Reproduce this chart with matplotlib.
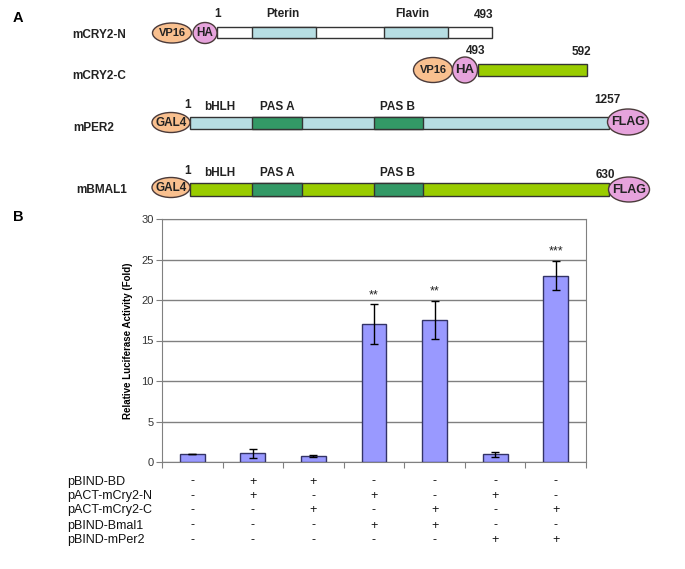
import numpy as np
import matplotlib.pyplot as plt
from matplotlib.patches import Ellipse, Rectangle
from matplotlib.transforms import blended_transform_factory

plt.rcParams['font.family'] = ['Liberation Sans', 'DejaVu Sans']

# bar chart data
values = [1.0, 1.1, 0.75, 17.0, 17.55, 0.95, 23.0]
errors = [0.0, 0.55, 0.1, 2.45, 2.35, 0.3, 1.8]
stars = ['', '', '', '**', '**', '', '***']
row_labels = ['pBIND-BD', 'pACT-mCry2-N', 'pACT-mCry2-C', 'pBIND-Bmal1', 'pBIND-mPer2']
signs = [
    ['-', '+', '+', '-', '-', '-', '-'],
    ['-', '+', '-', '+', '-', '+', '-'],
    ['-', '-', '+', '-', '+', '-', '+'],
    ['-', '-', '-', '+', '+', '-', '-'],
    ['-', '-', '-', '-', '-', '+', '+'],
]

# schematic (panel A), drawn in a pixel-like frame
peach = '#f9c08f'
pink = '#e6a3dc'
lblue = '#b7dee3'
green = '#99cc00'
dgreen = '#339966'

fig = plt.figure(figsize=(6.85, 5.69), dpi=100)
ax0 = fig.add_axes([0, 0, 1, 1])
ax0.set_xlim(0, 685)
ax0.set_ylim(569, 0)
ax0.axis('off')


def tag(x, y, w, h, color, label, size=8):
    ax0.add_patch(Ellipse((x, y), w, h, facecolor=color, edgecolor='#4a3a3a', lw=1, zorder=3))
    ax0.text(x, y, label, ha='center', va='center', fontsize=size, fontweight='bold', color='#222222', zorder=4)


def bar(x0, x1, yc, h, color, boxes=(), boxcolor=None):
    ax0.add_patch(Rectangle((x0, yc - h / 2), x1 - x0, h, facecolor=color, edgecolor='#333333', lw=1, zorder=2))
    for b0, b1 in boxes:
        ax0.add_patch(Rectangle((b0, yc - h / 2), b1 - b0, h, facecolor=boxcolor, edgecolor='#333333', lw=1, zorder=2))


def lbl(x, y, s, size=8.5, ha='center'):
    ax0.text(x, y, s, ha=ha, va='center', fontsize=size, fontweight='bold', color='#222222')


ax0.text(18, 18, 'A', ha='center', va='center', fontsize=10.5, fontweight='bold')
ax0.text(18, 217, 'B', ha='center', va='center', fontsize=10.5, fontweight='bold')

# mCRY2-N
lbl(72, 35, 'mCRY2-N', ha='left')
bar(217, 492, 32, 11, 'white', [(252, 316), (384, 448)], lblue)
tag(172, 33, 39, 20, peach, 'VP16')
tag(205, 33, 24, 21, pink, 'HA', 8.5)
lbl(218, 14, '1')
lbl(283, 14, 'Pterin')
lbl(412, 14, 'Flavin')
lbl(484, 15, '493')

# mCRY2-C
lbl(72, 76, 'mCRY2-C', ha='left')
bar(478, 587, 70, 12, green)
tag(433, 70, 39, 25, peach, 'VP16')
tag(465, 70, 25, 26, pink, 'HA', 9.5)
lbl(476, 51, '493')
lbl(581, 52, '592')

# mPER2
lbl(73, 128, 'mPER2', ha='left')
bar(190, 609, 123, 12, lblue, [(252, 302), (374, 423)], dgreen)
tag(171, 122.5, 38, 20, peach, 'GAL4', 8.5)
tag(628, 122, 41, 26, pink, 'FLAG', 9)
lbl(188, 105, '1')
lbl(220, 107, 'bHLH')
lbl(277, 107, 'PAS A')
lbl(398, 107, 'PAS B')
lbl(607, 100, '1257')

# mBMAL1
lbl(76, 190, 'mBMAL1', ha='left')
bar(190, 609, 189.5, 12.5, green, [(252, 302), (374, 423)], dgreen)
tag(171, 187.5, 38, 20, peach, 'GAL4', 8.5)
tag(629, 189.5, 41, 25, pink, 'FLAG', 9)
lbl(188, 171, '1')
lbl(220, 173, 'bHLH')
lbl(277, 173, 'PAS A')
lbl(398, 173, 'PAS B')
lbl(605, 175, '630')

# panel B bar chart
ax = fig.add_axes([162 / 685, (569 - 462) / 569, (586 - 162) / 685, (462 - 219) / 569])
x = np.arange(len(values))
ax.bar(x, values, width=0.41, color='#9999ff', edgecolor='#333366', lw=1, zorder=3)
ax.errorbar(x, values, yerr=errors, fmt='none', ecolor='black', elinewidth=1, capsize=3, capthick=1, zorder=4)
for xi, v, e, s in zip(x, values, errors, stars):
    if s:
        ax.text(xi, v + e + 0.4, s, ha='center', va='bottom', fontsize=9, color='#222222')

ax.set_xlim(-0.5, len(values) - 0.5)
ax.set_ylim(0, 30)
ax.set_yticks(np.arange(0, 31, 5))
ax.yaxis.grid(True, color='#808080', lw=1)
ax.set_axisbelow(True)
ax.set_xticks(np.arange(-0.5, len(values), 1))
ax.set_xticklabels([])
ax.tick_params(axis='x', direction='out', length=4, color='#808080')
ax.tick_params(axis='y', direction='out', length=4, color='#808080', labelsize=8, labelcolor='#333333', pad=2)
for side in ['left', 'bottom', 'right', 'top']:
    ax.spines[side].set_color('#808080')
ax.set_ylabel('Relative Luciferase Activity (Fold)', fontsize=7, fontweight='bold', labelpad=6)

# condition table under the bars
tr = blended_transform_factory(ax.transData, ax0.transData)
row_y = [481.5, 496, 510.5, 525.5, 540]
for ry, name, row in zip(row_y, row_labels, signs):
    ax0.text(67, ry, name, ha='left', va='center', fontsize=9, color='#111111')
    for xi, s in zip(x, row):
        ax.text(xi, ry, s, transform=tr, ha='center', va='center', fontsize=9, color='#111111', clip_on=False)

plt.savefig('out.png', dpi=100)
